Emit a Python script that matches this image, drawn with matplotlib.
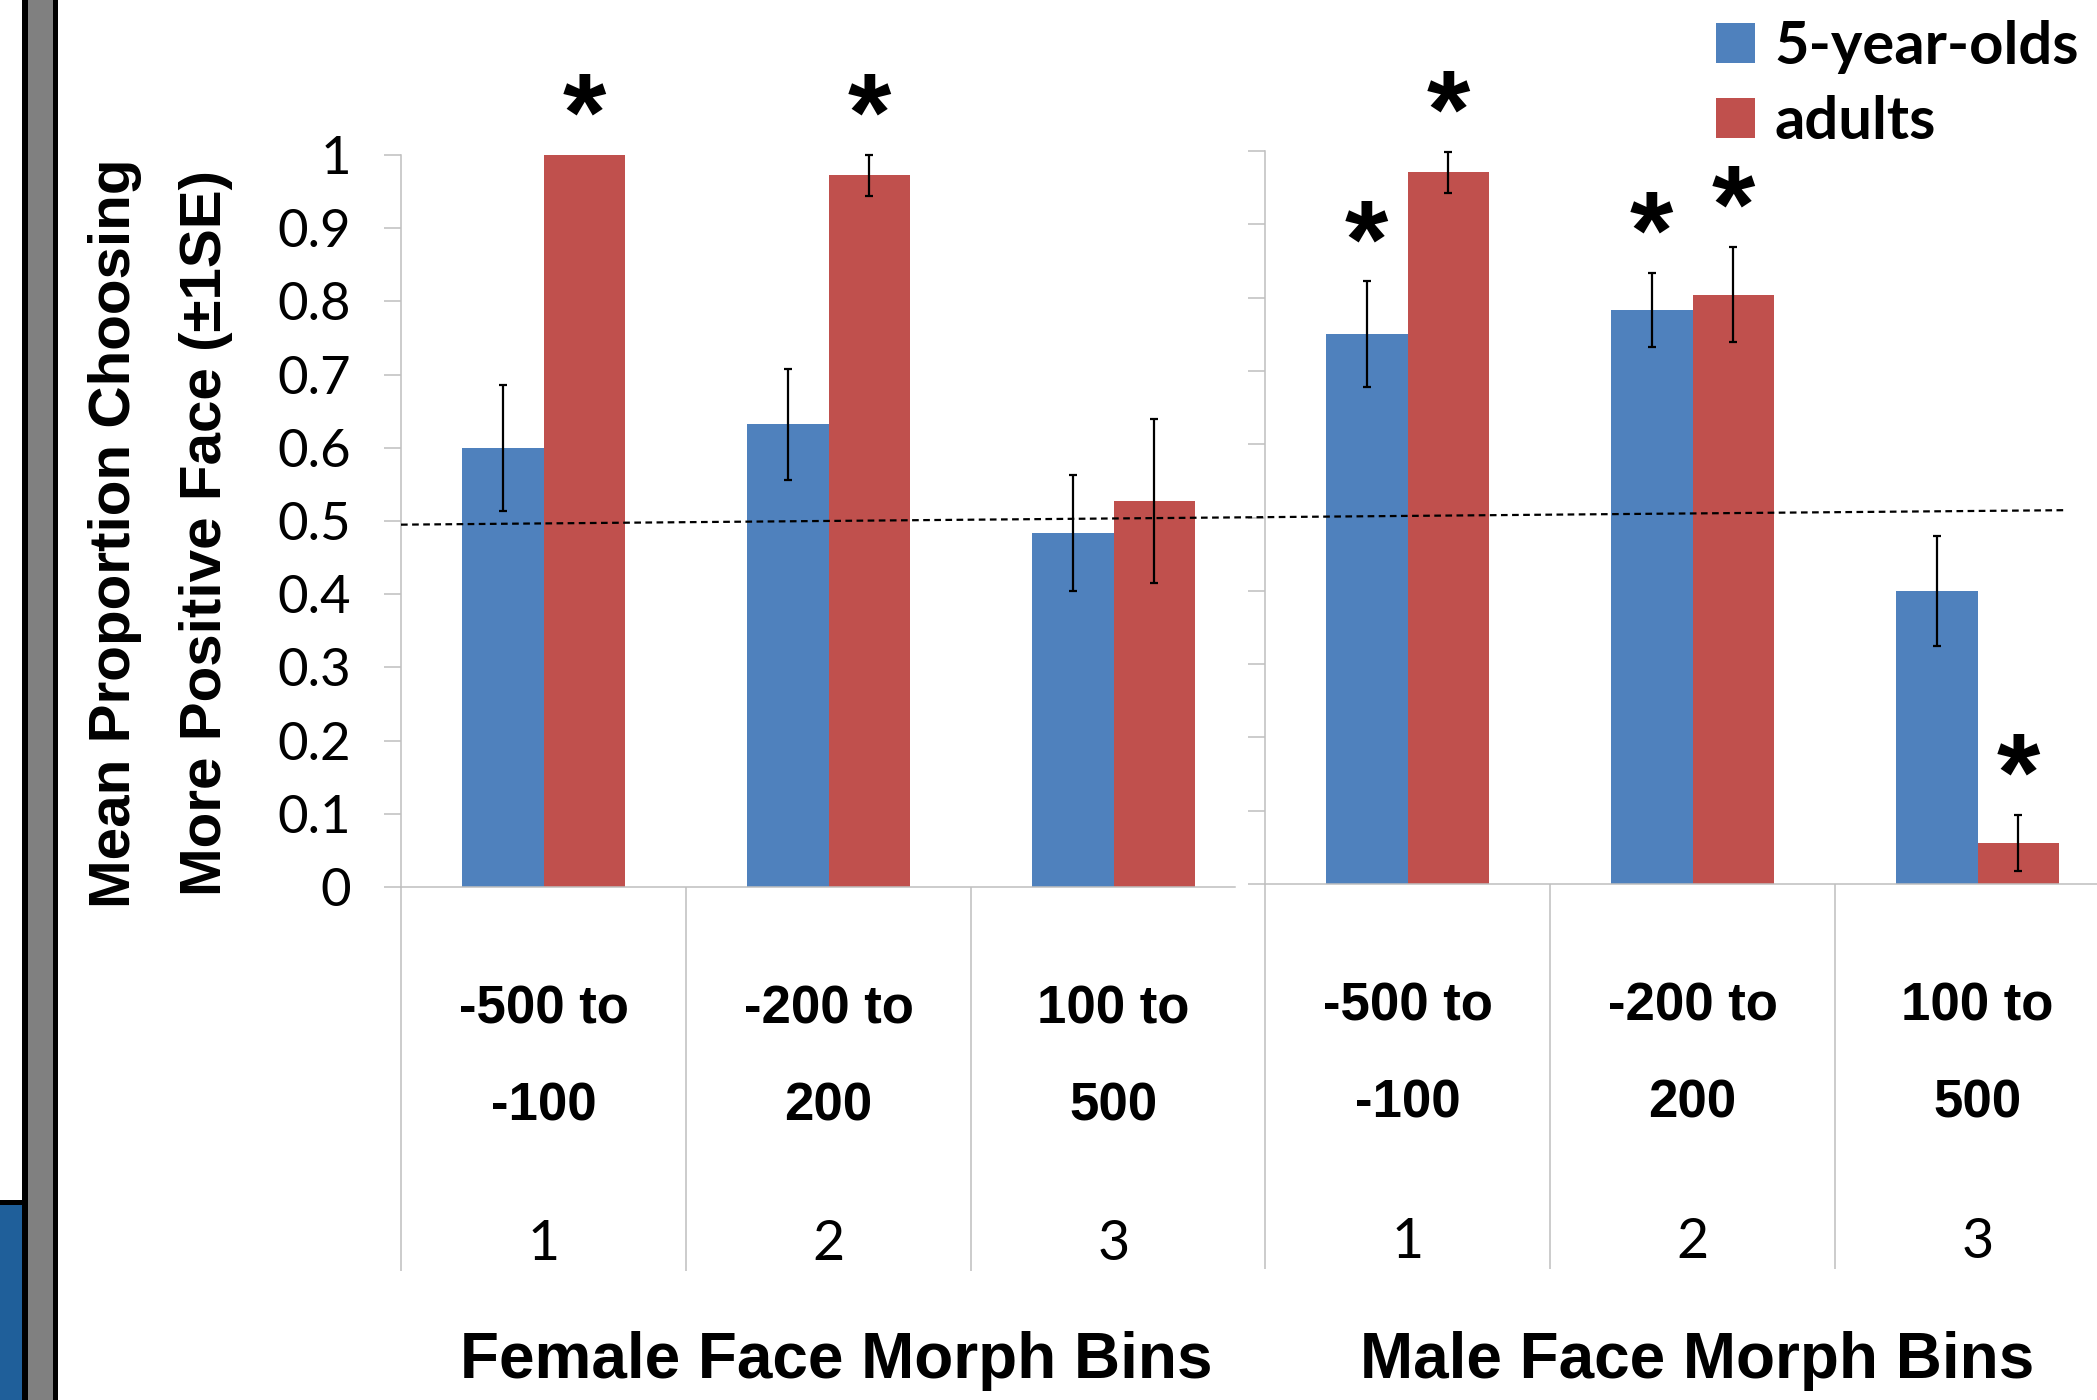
import numpy as np
import matplotlib
matplotlib.use("Agg")
import matplotlib.pyplot as plt
from matplotlib.patches import Rectangle, Patch
from matplotlib.lines import Line2D

# _________________________________________________________________
# values
bin_top = ["-500 to", "-200 to", "100 to"]
bin_bottom = ["-100", "200", "500"]
bin_numbers = ["1", "2", "3"]
groups = ["5-year-olds", "adults"]

female_kids = [0.600, 0.632, 0.484]
female_kids_se = [0.086, 0.076, 0.079]
female_adults = [1.000, 0.972, 0.527]
female_adults_se = [0.0, 0.028, 0.112]

male_kids = [0.750, 0.783, 0.400]
male_kids_se = [0.072, 0.050, 0.075]
male_adults = [0.971, 0.804, 0.056]
male_adults_se = [0.028, 0.065, 0.038]

# asterisks (different from chance)
female_kids_sig = [False, False, False]
female_adults_sig = [True, True, False]
male_kids_sig = [True, True, False]
male_adults_sig = [True, True, True]

# hand drawn chance line, slightly tilted in the original
chance_start = 0.495
chance_end = 0.51

y_ticks = np.round(np.arange(0, 1.01, 0.1), 1)
# _________________________________________________________________

BLUE = "#4F81BD"
RED = "#C0504D"
GRID = "#BFBFBF"
BAR_W = 0.287
STAR_GAP = 0.006
FIG_W, FIG_H = 2097, 1400

BOLD_FONT = "Liberation Sans"
CALIBRI_ISH = "Lato"


def px_box(x0, top, x1, bottom):
    """figure fraction box from pixel edges (y measured from the top)"""
    return [x0 / FIG_W, 1 - bottom / FIG_H, (x1 - x0) / FIG_W, (bottom - top) / FIG_H]


def draw_panel(ax, kids, kids_se, adults, adults_se, kids_sig, adults_sig, xmax, show_ylabels):
    x = np.arange(len(bin_top))
    series = [(-BAR_W / 2, kids, kids_se, kids_sig, BLUE),
              (BAR_W / 2, adults, adults_se, adults_sig, RED)]
    for off, vals, se, sig, col in series:
        ax.bar(x + off, vals, BAR_W, color=col, zorder=2)
        for xi, v, e, s in zip(x + off, vals, se, sig):
            if e > 0:
                ax.errorbar(xi, v, yerr=e, fmt="none", ecolor="black", elinewidth=1.6,
                            capsize=3, capthick=1.6, zorder=3, clip_on=False)
            if s:
                ax.text(xi, v + e + STAR_GAP, "*", ha="center", va="baseline", fontsize=80,
                        fontweight="bold", family=BOLD_FONT)

    ax.set_xlim(-0.5, xmax)
    ax.set_ylim(0, 1)
    ax.set_xticks([])
    ax.set_yticks(y_ticks)
    ax.set_yticklabels([f"{t:g}" for t in y_ticks], family=CALIBRI_ISH)
    ax.tick_params(axis="y", direction="out", length=12, width=1.1, color=GRID,
                   labelsize=38, pad=24, labelleft=show_ylabels)
    for side in ("top", "right"):
        ax.spines[side].set_visible(False)
    for side in ("left", "bottom"):
        ax.spines[side].set_color(GRID)
        ax.spines[side].set_linewidth(1.1)
    ax.set_facecolor("none")

    # category divider lines under the axis (only those inside the panel)
    edges = np.arange(len(bin_top) + 1) - 0.5
    edges = edges[edges < xmax]
    ax.vlines(edges, 0, -0.525, colors=GRID, lw=1.1, clip_on=False)

    for xi, top, bottom, num in zip(x, bin_top, bin_bottom, bin_numbers):
        ax.text(xi, -0.167, top, ha="center", va="center", fontsize=38,
                fontweight="bold", family=BOLD_FONT)
        ax.text(xi, -0.3, bottom, ha="center", va="center", fontsize=38,
                fontweight="bold", family=BOLD_FONT)
        ax.text(xi, -0.489, num, ha="center", va="center", fontsize=40, family=CALIBRI_ISH)


fig = plt.figure(figsize=(FIG_W / 100, FIG_H / 100), dpi=100)

ax_f = fig.add_axes(px_box(401, 155, 1235, 887))
ax_m = fig.add_axes(px_box(1265, 151, 2120, 884))

draw_panel(ax_f, female_kids, female_kids_se, female_adults, female_adults_se,
           female_kids_sig, female_adults_sig, 2.426, True)
draw_panel(ax_m, male_kids, male_kids_se, male_adults, male_adults_se,
           male_kids_sig, male_adults_sig, 2.5, False)

# chance line running across both panels
to_fig = fig.transFigure.inverted()
p0 = to_fig.transform(ax_f.transData.transform((-0.5, chance_start)))
p1 = to_fig.transform(ax_m.transData.transform((2.314, chance_end)))
fig.add_artist(Line2D([p0[0], p1[0]], [p0[1], p1[1]], transform=fig.transFigure,
                      color="black", lw=1.6, ls=(0, (3, 2)), zorder=5))

# axis titles
fig.text(115 / FIG_W, 1 - 533 / FIG_H, "Mean Proportion Choosing", rotation=90,
         ha="center", va="center", fontsize=42, fontweight="bold", family=BOLD_FONT)
fig.text(206 / FIG_W, 1 - 533 / FIG_H, "More Positive Face (\u00b11SE)", rotation=90,
         ha="center", va="center", fontsize=42, fontweight="bold", family=BOLD_FONT)
fig.text(836 / FIG_W, 1 - 1361 / FIG_H, "Female Face Morph Bins", ha="center", va="center",
         fontsize=46, fontweight="bold", family=BOLD_FONT)
fig.text(1697 / FIG_W, 1 - 1361 / FIG_H, "Male Face Morph Bins", ha="center", va="center",
         fontsize=46, fontweight="bold", family=BOLD_FONT)

# legend
handles = [Patch(facecolor=BLUE, label=groups[0]), Patch(facecolor=RED, label=groups[1])]
fig.legend(handles=handles, loc="upper left", bbox_to_anchor=(1716 / FIG_W, 1 - 20 / FIG_H),
           frameon=False, borderpad=0, borderaxespad=0, handlelength=0.65, handleheight=0.65,
           handletextpad=0.33, labelspacing=0.35,
           prop={"family": CALIBRI_ISH, "weight": "bold", "size": 43})

# slide edge on the left
fig.add_artist(Rectangle((22 / FIG_W, 0), 36 / FIG_W, 1, transform=fig.transFigure,
                         facecolor="black", edgecolor="none"))
fig.add_artist(Rectangle((28 / FIG_W, 0), 25 / FIG_W, 1, transform=fig.transFigure,
                         facecolor="#808080", edgecolor="none"))
fig.add_artist(Rectangle((0, 0), 22 / FIG_W, 200 / FIG_H, transform=fig.transFigure,
                         facecolor="black", edgecolor="none"))
fig.add_artist(Rectangle((0, 0), 22 / FIG_W, 195 / FIG_H, transform=fig.transFigure,
                         facecolor="#1F5F9A", edgecolor="none"))

fig.savefig("out.png", dpi=100, facecolor="white")
